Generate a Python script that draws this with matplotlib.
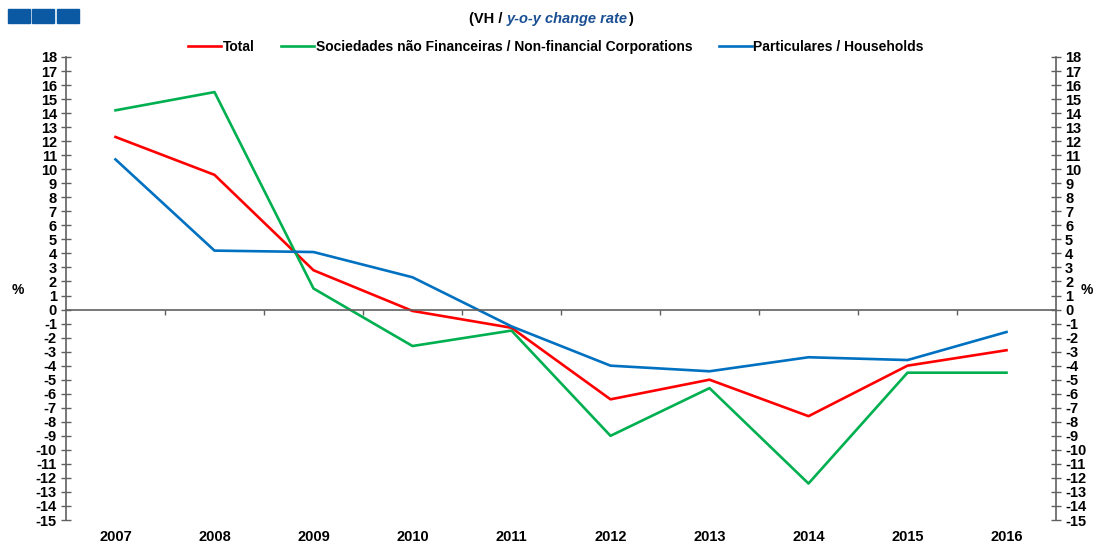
import matplotlib
matplotlib.use("Agg")
import matplotlib.pyplot as plt
from matplotlib import font_manager
from matplotlib.patches import Rectangle
from matplotlib.transforms import blended_transform_factory
import numpy as np

years = ["2007", "2008", "2009", "2010", "2011", "2012", "2013", "2014", "2015", "2016"]
total = [12.3, 9.6, 2.8, -0.1, -1.3, -6.4, -5.0, -7.6, -4.0, -2.9]
nfc = [14.2, 15.5, 1.5, -2.6, -1.5, -9.0, -5.6, -12.4, -4.5, -4.5]
households = [10.7, 4.2, 4.1, 2.3, -1.2, -4.0, -4.4, -3.4, -3.6, -1.6]
series_names = ["Total",
                "Sociedades não Financeiras / Non-financial Corporations",
                "Particulares / Households"]
yticks = list(range(-15, 19))

installed = {f.name for f in font_manager.fontManager.ttflist}
narrow = "Liberation Sans Narrow" if "Liberation Sans Narrow" in installed else "Liberation Sans"
plt.rcParams["font.family"] = [narrow, "DejaVu Sans"]
plt.rcParams["font.weight"] = "bold"

fig = plt.figure(figsize=(10.94, 5.46), dpi=100)
ax = fig.add_axes([66 / 1094, 1 - 520 / 546, 990 / 1094, 463 / 546])

x = np.arange(len(years))
colors = ["#ff0000", "#00b050", "#0070c0"]
for vals, name, c in zip([total, nfc, households], series_names, colors):
    ax.plot(x, vals, color=c, lw=1.9, label=name)

ax.set_xlim(-0.5, len(years) - 0.5)
ax.set_ylim(-15, 18)

# axis look: y axes on both sides, x axis line sits on zero
ax.spines["top"].set_visible(False)
ax.spines["bottom"].set_position(("data", 0))
axis_col = "#606060"
for s in ["left", "right", "bottom"]:
    ax.spines[s].set_color(axis_col)
    ax.spines[s].set_linewidth(1.2)

ax.set_yticks(yticks)
ax.set_yticklabels([str(v) for v in yticks])
ax.tick_params(axis="y", direction="inout", length=7, width=1, color=axis_col,
               left=True, right=True, labelleft=True, labelright=True,
               labelsize=10.5, pad=3)
ax.set_xticks(np.arange(len(years) - 1) + 0.5)
ax.set_xticklabels([])
ax.tick_params(axis="x", direction="out", length=3.5, width=1, color=axis_col)

# year labels under the plot area
trans = blended_transform_factory(ax.transData, ax.transAxes)
for i, yr in enumerate(years):
    ax.text(i, -0.037, yr, transform=trans, ha="center", va="center",
            fontsize=10.5, fontweight="bold")

fig.text(18 / 1094, 1 - 290 / 546, "%", ha="center", va="center", fontsize=10, fontweight="bold")
fig.text(1087 / 1094, 1 - 290 / 546, "%", ha="center", va="center", fontsize=10, fontweight="bold")

fig.legend(loc="center", bbox_to_anchor=(556 / 1094, 1 - 47 / 546), ncol=3,
           frameon=False, handlelength=2.4, handletextpad=0.1,
           columnspacing=1.9, prop={"weight": "bold", "size": 10})

# subtitle, built from chained pieces
ty = 1 - 19 / 546
t1 = fig.text(469 / 1094, ty, "(VH / ", ha="left", va="center", fontsize=10.5, fontweight="bold")
t2 = ax.annotate("y-o-y change rate", xy=(1, 0.5), xycoords=t1, ha="left", va="center",
                 fontsize=10.5, fontweight="bold", style="italic", color="#1a4f94",
                 annotation_clip=False)
ax.annotate(")", xy=(1, 0.5), xycoords=t2, ha="left", va="center",
            fontsize=10.5, fontweight="bold", annotation_clip=False)

# decorative squares top-left
for x0 in [8, 32, 57]:
    fig.patches.append(Rectangle((x0 / 1094, 1 - 23 / 546), 22 / 1094, 14 / 546,
                                 transform=fig.transFigure, color="#0b59a2", zorder=5))

fig.savefig("out.png", dpi=100)
